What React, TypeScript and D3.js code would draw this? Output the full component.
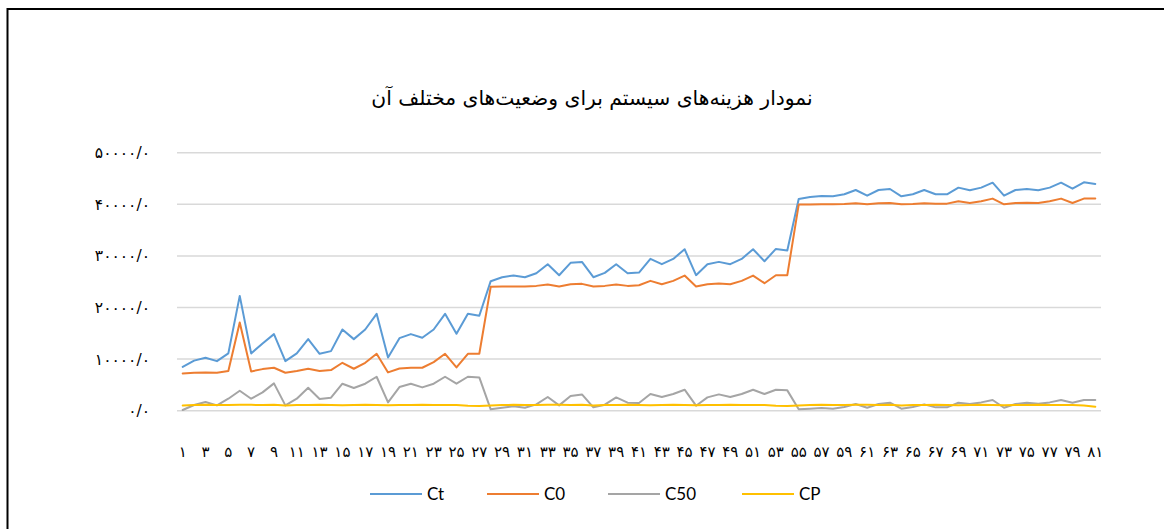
import React from "react";
import * as d3 from "d3";

const title = "نمودار هزینه‌های سیستم برای وضعیت‌های مختلف آن";
const seriesNames = ["Ct", "C0", "C50", "CP"];
const seriesColors = ["#5B9BD5", "#ED7D31", "#A5A5A5", "#FFC000"];

const ct = [8500, 9700, 10250, 9600, 11100, 22250, 11100, 13030, 14840, 9610, 11100, 13870, 11030, 11550, 15740, 13870, 15740, 18770, 10320, 14060, 14840, 14130, 15740, 18770, 14900, 18770, 18390,
  25100, 25870, 26190, 25870, 26650, 28390, 26260, 28650, 28840, 25870, 26710, 28390, 26650, 26770, 29420, 28390, 29420, 31290, 26260, 28390, 28840, 28390, 29420, 31290, 28970, 31350, 31030,
  41030, 41420, 41610, 41550, 41940, 42770, 41680, 42770, 42970, 41550, 41940, 42770, 41940, 41940, 43230, 42710, 43230, 44190, 41680, 42770, 42970, 42710, 43230, 44190, 43030, 44260, 43940];
const c0 = [7230, 7350, 7420, 7350, 7680, 17100, 7610, 8060, 8320, 7350, 7680, 8130, 7680, 7870, 9290, 8130, 9290, 11030, 7420, 8190, 8320, 8320, 9420, 11030, 8390, 11030, 11030,
  24000, 24060, 24060, 24060, 24190, 24450, 24060, 24520, 24580, 24060, 24190, 24450, 24190, 24320, 25160, 24520, 25160, 26190, 24060, 24520, 24650, 24520, 25160, 26190, 24710, 26260, 26260,
  39940, 39940, 40000, 40000, 40060, 40190, 40000, 40190, 40260, 40000, 40060, 40190, 40130, 40130, 40580, 40260, 40580, 41100, 40000, 40260, 40320, 40260, 40580, 41100, 40260, 41100, 41100];
const c50 = [130, 1100, 1680, 1030, 2320, 3870, 2320, 3550, 5290, 1030, 2320, 4450, 2260, 2520, 5230, 4390, 5230, 6580, 1610, 4580, 5230, 4520, 5230, 6580, 5230, 6580, 6450,
  260, 580, 840, 580, 1230, 2650, 1030, 2840, 3160, 650, 1160, 2580, 1550, 1480, 3230, 2650, 3230, 4070, 970, 2580, 3160, 2650, 3230, 4070, 3230, 4070, 3940,
  260, 390, 520, 390, 710, 1290, 580, 1290, 1550, 390, 710, 1230, 650, 650, 1550, 1290, 1610, 2070, 580, 1290, 1550, 1350, 1610, 2070, 1550, 2070, 2070];
const cp = [1030, 1100, 1130, 1100, 1100, 1130, 1130, 1100, 1130, 1030, 1100, 1100, 1130, 1100, 1070, 1100, 1130, 1100, 1070, 1100, 1100, 1130, 1100, 1100, 1100, 970, 900,
  1030, 1100, 1130, 1100, 1100, 1130, 1130, 1100, 1130, 1030, 1100, 1100, 1130, 1100, 1070, 1100, 1130, 1100, 1070, 1100, 1100, 1130, 1100, 1100, 1100, 970, 900,
  1030, 1100, 1130, 1100, 1100, 1130, 1130, 1100, 1130, 1030, 1100, 1100, 1130, 1100, 1070, 1100, 1130, 1100, 1070, 1100, 1100, 1130, 1100, 1100, 1100, 1000, 780];

const categories = d3.range(1, 82);
const yTicks = [0, 10000, 20000, 30000, 40000, 50000];
const yTickLabels = ["۰/۰", "۱۰۰۰۰/۰", "۲۰۰۰۰/۰", "۳۰۰۰۰/۰", "۴۰۰۰۰/۰", "۵۰۰۰۰/۰"];
const persianDigits = "۰۱۲۳۴۵۶۷۸۹";
const toPersian = (n: number) => String(n).replace(/\d/g, (d) => persianDigits[+d]);

export default function App() {
  const W = 1164, H = 529;
  const x = d3.scaleBand<number>().domain(categories).range([177, 1101]).padding(0);
  const cx = (c: number) => (x(c) as number) + x.bandwidth() / 2;
  const y = d3.scaleLinear().domain([0, 50000]).range([410.7, 152.7]);
  const line = d3.line<number>().x((_, i) => cx(categories[i])).y((v) => y(v));
  const allSeries = [ct, c0, c50, cp];
  const legendX = [370, 487, 608, 742];
  const persianFont = "'DejaVu Sans', sans-serif";
  const latinFont = "Lato, 'Open Sans', sans-serif";

  return (
    <svg width={W} height={H} style={{ position: "absolute", left: 0, top: 0, background: "#fff" }}>
      <rect x={0} y={0} width={W} height={H} fill="#fff" />
      <path d={`M7.5,${H + 5} L7.5,9 L${W + 5},9`} fill="none" stroke="#000" strokeWidth={2} />
      <text x={592} y={105} textAnchor="middle" direction="rtl" fontFamily={persianFont} fontSize={20.3} fill="#000">{title}</text>
      {yTicks.map((t, i) => (
        <g key={t}>
          <line x1={177} x2={1101} y1={y(t)} y2={y(t)} stroke="#D9D9D9" strokeWidth={1.5} />
          <text x={150} y={y(t)} dy="0.35em" textAnchor="end" fontFamily={persianFont} fontSize={15.5} fill="#000">{yTickLabels[i]}</text>
        </g>
      ))}
      {categories.filter((c) => c % 2 === 1).map((c) => (
        <text key={c} x={cx(c)} y={452} dy="0.35em" textAnchor="middle" fontFamily={persianFont} fontSize={15} fill="#000">{toPersian(c)}</text>
      ))}
      {allSeries.map((s, i) => (
        <path key={i} d={line(s) || ""} fill="none" stroke={seriesColors[i]} strokeWidth={2} strokeLinejoin="round" strokeLinecap="round" />
      ))}
      {seriesNames.map((n, i) => (
        <g key={n}>
          <line x1={legendX[i]} x2={legendX[i] + 52} y1={494} y2={494} stroke={seriesColors[i]} strokeWidth={2} />
          <text x={legendX[i] + 57} y={494} dy="0.35em" fontFamily={latinFont} fontSize={17} fill="#000">{n}</text>
        </g>
      ))}
    </svg>
  );
}
